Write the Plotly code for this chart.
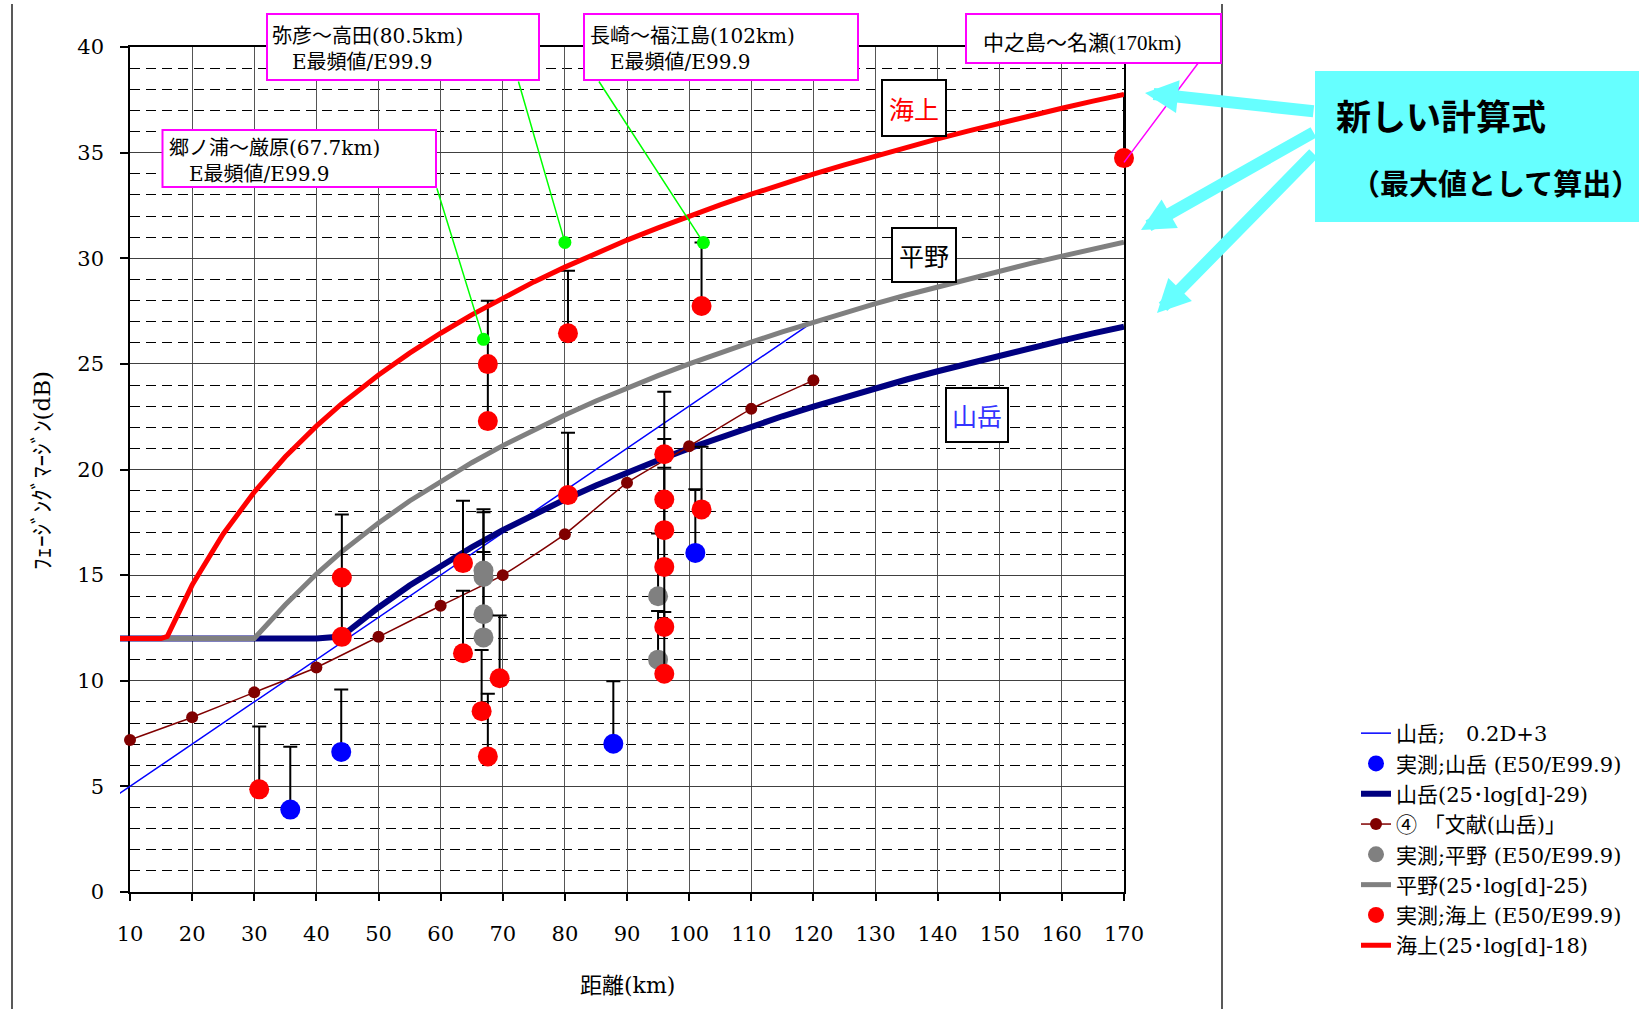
import plotly.graph_objects as go

# ---- design curves (dB) sampled along distance (km) ----
curve_km = [8, 10, 15, 16, 20, 25, 30, 35, 40, 44, 45, 50, 55, 60, 65, 70, 75, 80, 85, 90,
            95, 100, 105, 110, 115, 120, 125, 130, 135, 140, 145, 150, 155, 160, 165, 170]
sea_db = [12, 12, 12, 12.10, 14.53, 16.95, 18.93, 20.60, 22.05, 23.09, 23.33, 24.47, 25.51,
          26.45, 27.32, 28.13, 28.88, 29.58, 30.24, 30.86, 31.44, 32.00, 32.53, 33.03, 33.52,
          33.98, 34.42, 34.85, 35.26, 35.65, 36.03, 36.40, 36.76, 37.10, 37.44, 37.76]
plain_db = [12, 12, 12, 12, 12, 12, 12, 13.60, 15.05, 16.09, 16.33, 17.47, 18.51, 19.45, 20.32,
            21.13, 21.88, 22.58, 23.24, 23.86, 24.44, 25.00, 25.53, 26.03, 26.52, 26.98, 27.42,
            27.85, 28.26, 28.65, 29.03, 29.40, 29.76, 30.10, 30.44, 30.76]
mountain_db = [12, 12, 12, 12, 12, 12, 12, 12, 12, 12.09, 12.33, 13.47, 14.51, 15.45, 16.32,
               17.13, 17.88, 18.58, 19.24, 19.86, 20.44, 21.00, 21.53, 22.03, 22.52, 22.98,
               23.42, 23.85, 24.26, 24.65, 25.03, 25.40, 25.76, 26.10, 26.44, 26.76]

# straight mountain rule 0.2D+3
linear_km = [8, 120]
linear_db = [4.6, 27.0]

# literature values (mountain)
lit_km = [10, 20, 30, 40, 50, 60, 70, 80, 90, 100, 110, 120]
lit_db = [7.2, 8.27, 9.45, 10.63, 12.08, 13.55, 15.0, 16.94, 19.37, 21.1, 22.87, 24.22]

# measurements: E50 (dot) and E99.9 (top of bar)
mt_km = [35.8, 44.0, 87.8, 101.0]
mt_e50 = [3.9, 6.63, 7.02, 16.05]
mt_e99 = [6.87, 9.58, 9.98, 19.06]

pl_km = [66.9, 66.9, 66.9, 66.9, 95.0, 95.0]
pl_e50 = [15.22, 14.91, 13.15, 12.05, 14.0, 11.0]
pl_e99 = [18.12, 17.98, 16.1, 15.0, 16.97, 13.3]

sea_km = [30.8, 44.1, 44.1, 63.6, 63.6, 66.6, 67.6, 67.6, 67.6, 69.5, 80.5, 80.5,
          96.0, 96.0, 96.0, 96.0, 96.0, 96.0, 102.0, 102.0, 170.0]
sea_e50 = [4.86, 14.89, 12.08, 15.57, 11.3, 8.56, 6.42, 24.99, 22.29, 10.12, 26.45, 18.79,
           20.72, 18.58, 17.13, 15.39, 12.55, 10.33, 27.74, 18.11, 34.74]
sea_e99 = [7.84, 17.87, 14.9, 18.52, 14.26, 11.45, 9.39, 27.99, 25.24, 13.09, 29.41, 21.74,
           23.68, 21.44, 20.08, 18.27, 15.5, 13.26, 30.75, 21.08, 37.75]

# callout anchor points (route labels)
callout_km = [66.9, 80.0, 102.3]
callout_db = [26.16, 30.75, 30.74]

x_ticks = list(range(10, 171, 10))
y_ticks = list(range(0, 41, 5))

# ---- page geometry helpers (pixels -> paper fractions) ----
L, R, T, B, W, H = 120, 515, 47, 117, 1639, 1009
PW, PH = W - L - R, H - T - B
scale = (PW - 10) / 160.0          # px per km on the drawn axis


def fx(px):
    return (px - L) / PW


def fy(py):
    return (H - B - py) / PH


def px_of(v):
    return L + 10 + (v - 10) * scale


def py_of(v):
    return (H - B) - v * PH / 40.0


SERIF = "DejaVu Serif, Noto Sans CJK JP"
SERIF_NARROW = "Liberation Serif, Noto Sans CJK JP"
SANS = "Noto Sans CJK JP"

fig = go.Figure()
on2 = dict(xaxis="x2", yaxis="y2")

# anchor trace so the gridded main axes are rendered
fig.add_trace(go.Scatter(x=[None], y=[None], showlegend=False, hoverinfo="skip"))


def bars(e50, e99):
    return dict(type="data", symmetric=False,
                array=[round(b - a, 3) for a, b in zip(e50, e99)],
                arrayminus=[0] * len(e50),
                color="black", thickness=2, width=7)


fig.add_trace(go.Scatter(x=linear_km, y=linear_db, mode="lines",
                         line=dict(color="#0000FF", width=1.5),
                         name="山岳;\u30000.2D+3", **on2))
fig.add_trace(go.Scatter(x=mt_km, y=mt_e50, mode="markers", cliponaxis=False,
                         marker=dict(color="#0000FF", size=20),
                         error_y=bars(mt_e50, mt_e99),
                         name="実測;山岳 (E50/E99.9)", **on2))
fig.add_trace(go.Scatter(x=curve_km, y=mountain_db, mode="lines",
                         line=dict(color="#000080", width=6),
                         name="山岳(25･log[d]-29)", **on2))
fig.add_trace(go.Scatter(x=lit_km, y=lit_db, mode="lines+markers",
                         line=dict(color="#800000", width=1.5, shape="spline", smoothing=0.5),
                         marker=dict(color="#800000", size=12),
                         name="④ 「文献(山岳)」", **on2))
fig.add_trace(go.Scatter(x=pl_km, y=pl_e50, mode="markers", cliponaxis=False,
                         marker=dict(color="#808080", size=20),
                         error_y=bars(pl_e50, pl_e99),
                         name="実測;平野 (E50/E99.9)", **on2))
fig.add_trace(go.Scatter(x=curve_km, y=plain_db, mode="lines",
                         line=dict(color="#808080", width=5),
                         name="平野(25･log[d]-25)", **on2))
fig.add_trace(go.Scatter(x=sea_km, y=sea_e50, mode="markers", cliponaxis=False,
                         marker=dict(color="#FF0000", size=20),
                         error_y=bars(sea_e50, sea_e99),
                         name="実測;海上 (E50/E99.9)", **on2))
fig.add_trace(go.Scatter(x=curve_km, y=sea_db, mode="lines",
                         line=dict(color="#FF0000", width=5),
                         name="海上(25･log[d]-18)", **on2))
fig.add_trace(go.Scatter(x=callout_km, y=callout_db, mode="markers", cliponaxis=False,
                         marker=dict(color="#00FF00", size=13),
                         showlegend=False, hoverinfo="skip", **on2))

tickfont = dict(family=SERIF, size=21, color="black")

fig.update_layout(
    width=W, height=H,
    margin=dict(l=L, r=R, t=T, b=B, pad=0),
    paper_bgcolor="white",
    plot_bgcolor="rgba(0,0,0,0)",
    showlegend=True,
    xaxis=dict(domain=[10 / PW, 1], range=[10, 170], tickvals=x_ticks,
               showgrid=True, gridcolor="#555555", gridwidth=1,
               showline=True, linecolor="black", linewidth=2, mirror=True,
               ticks="outside", ticklen=7, tickcolor="black", tickwidth=1.5,
               tickfont=tickfont, ticklabelstandoff=15, zeroline=False),
    yaxis=dict(domain=[0, 1], range=[0, 40], tickvals=y_ticks,
               showgrid=True, gridcolor="#404040", gridwidth=1,
               minor=dict(dtick=1, showgrid=True, gridcolor="black", gridwidth=1,
                          griddash="10px,6px"),
               showline=True, linecolor="black", linewidth=1.5, mirror=True,
               ticks="outside", ticklen=8, tickcolor="black", tickwidth=1.5,
               tickfont=tickfont, ticklabelstandoff=12, zeroline=False),
    xaxis2=dict(domain=[0, 1], range=[10 - 10 / scale, 170], anchor="y2", visible=False),
    yaxis2=dict(domain=[0, 1], range=[0, 40], anchor="x2", visible=False),
    legend=dict(x=fx(1356), y=fy(713), xanchor="left", yanchor="top",
                font=dict(family=SERIF, size=21, color="black"),
                bgcolor="rgba(0,0,0,0)", borderwidth=0, tracegroupgap=0),
)

shapes = []
# outer frame lines of the chart area
for xpx in (12, 1222):
    shapes.append(dict(type="line", xref="paper", yref="paper", x0=fx(xpx), x1=fx(xpx),
                       y0=fy(4), y1=fy(H), line=dict(color="#222222", width=1.5), layer="below"))

# route label boxes
route_boxes = [(267, 14, 539, 80), (162.5, 130, 436, 187), (584, 14, 858, 80), (966, 14, 1221, 63)]
for x0, y0, x1, y1 in route_boxes:
    shapes.append(dict(type="rect", xref="paper", yref="paper", x0=fx(x0), x1=fx(x1),
                       y0=fy(y1), y1=fy(y0), line=dict(color="#FF00FF", width=2),
                       fillcolor="white", layer="above"))

# curve name boxes
name_boxes = [(882, 80, 946, 136), (892, 228, 956, 282), (946, 388, 1008, 442)]
for x0, y0, x1, y1 in name_boxes:
    shapes.append(dict(type="rect", xref="paper", yref="paper", x0=fx(x0), x1=fx(x1),
                       y0=fy(y1), y1=fy(y0), line=dict(color="black", width=2),
                       fillcolor="white", layer="above"))

# cyan note box
shapes.append(dict(type="rect", xref="paper", yref="paper", x0=fx(1315), x1=fx(1650),
                   y0=fy(222), y1=fy(71), line=dict(width=0), fillcolor="#66FFFF", layer="above"))
fig.update_layout(shapes=shapes)

ann = []


def label(px, py, text, font, xanchor="center", **kw):
    ann.append(dict(xref="paper", yref="paper", x=fx(px), y=fy(py), text=text,
                    xanchor=xanchor, yanchor="middle", showarrow=False, font=font, **kw))


route_font = dict(family=SERIF, size=20, color="black")
label(270, 49, "弥彦～高田(80.5km)<br>\u3000E最頻値/E99.9", route_font, "left", align="left")
label(167, 161, "郷ノ浦～厳原(67.7km)<br>\u3000E最頻値/E99.9", route_font, "left", align="left")
label(588, 49, "長崎～福江島(102km)<br>\u3000E最頻値/E99.9", route_font, "left", align="left")
label(981, 43, "中之島～名瀬(170km)", dict(family=SERIF_NARROW, size=21, color="black"),
      "left", align="left")

# callout leader lines (box corner -> point)
leaders = [(0, 436.4, 186.7), (1, 518, 80), (2, 598, 80)]
for i, bx, by in leaders:
    ann.append(dict(xref="x2", yref="y2", x=callout_km[i], y=callout_db[i], text="",
                    showarrow=True, arrowhead=0, arrowwidth=1.5, arrowcolor="#00FF00",
                    axref="pixel", ayref="pixel",
                    ax=bx - px_of(callout_km[i]), ay=by - py_of(callout_db[i])))
ann.append(dict(xref="x2", yref="y2", x=sea_km[-1], y=sea_e50[-1] - 0.2, text="",
                showarrow=True, arrowhead=0, arrowwidth=1.5, arrowcolor="#FF00FF",
                axref="pixel", ayref="pixel",
                ax=1199 - px_of(sea_km[-1]), ay=62 - py_of(sea_e50[-1] - 0.2)))

# curve names
label(914, 108, "海上", dict(family=SANS, size=25, color="#FF0000"))
label(924, 255, "平野", dict(family=SANS, size=25, color="black"))
label(977, 415, "山岳", dict(family=SANS, size=25, color="#3333FF"))

# note text
label(1334, 115, "<b>新しい計算式</b>", dict(family=SANS, size=35, color="black"), "left")
label(1349, 182, "<b>（最大値として算出）</b>", dict(family=SANS, size=29, color="black"), "left")

# note arrows (tip, tail in pixels)
for (tx, ty), (sx, sy) in [((1145, 93), (1315, 111.5)), ((1141, 230), (1315, 131.5)),
                           ((1157, 313), (1315, 152))]:
    ann.append(dict(xref="paper", yref="paper", x=fx(tx), y=fy(ty), text="",
                    showarrow=True, arrowhead=2, arrowsize=0.55, arrowwidth=12,
                    arrowcolor="#66FFFF", axref="pixel", ayref="pixel",
                    ax=sx - tx, ay=sy - ty))

# axis titles
label(627, 985, "距離(km)", dict(family=SERIF, size=22, color="black"))
label(42, 471, "ﾌｪｰｼﾞﾝｸﾞﾏｰｼﾞﾝ(dB)", dict(family=SERIF, size=23, color="black"), textangle=-90)

fig.update_layout(annotations=ann)
fig.write_html("out.html")
